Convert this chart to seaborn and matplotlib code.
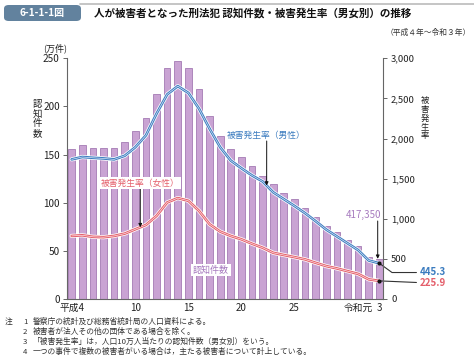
import numpy as np
import pandas as pd
import matplotlib
matplotlib.use("Agg")
import matplotlib.pyplot as plt
import matplotlib.patheffects as pe
from matplotlib.patches import FancyBboxPatch
import seaborn as sns

# ---------------- data ----------------
years = ['平成4', '5', '6', '7', '8', '9', '10', '11', '12', '13', '14', '15', '16', '17', '18',
         '19', '20', '21', '22', '23', '24', '25', '26', '27', '28', '29', '30', '令和元', '2', '3']
counts = [155.6, 160.1, 157.3, 157.3, 157.3, 163.5, 175.0, 187.5, 212.9, 239.6,
          247.6, 239.6, 217.7, 190.3, 169.5, 156.3, 147.9, 138.2, 128.1, 119.2,
          110.4, 103.5, 94.8, 84.8, 76.0, 69.2, 61.1, 55.2, 44.0, 41.735]  # 万件
male_rate = [1740, 1770, 1760, 1752, 1740, 1785, 1892, 2040, 2310, 2550,
             2653, 2569, 2373, 2122, 1892, 1725, 1630, 1540, 1465, 1330,
             1245, 1160, 1070, 970, 865, 780, 695, 610, 480, 445.3]
female_rate = [786, 794, 775, 770, 786, 815, 869, 923, 1036, 1203,
               1258, 1224, 1099, 932, 840, 786, 744, 689, 639, 576,
               548, 522, 494, 451, 410, 381, 347, 313, 245, 225.9]
tick_pos = [0, 6, 11, 16, 21, 27, 29]
tick_labels = ['平成4', '10', '15', '20', '25', '令和元', '3']
left_ticks = [0, 50, 100, 150, 200, 250]
right_ticks = [0, 500, 1000, 1500, 2000, 2500, 3000]
notes = ["警察庁の統計及び総務省統計局の人口資料による。",
         "被害者が法人その他の団体である場合を除く。",
         "「被害発生率」は，人口10万人当たりの認知件数（男女別）をいう。",
         "一つの事件で複数の被害者がいる場合は，主たる被害者について計上している。"]

idx = np.arange(len(years))
df = pd.DataFrame({'idx': idx, 'year': years, 'count': counts,
                   'male': male_rate, 'female': female_rate})

# ---------------- style ----------------
sns.set_theme(style="white")
plt.rcParams['font.family'] = ['Noto Sans CJK JP', 'DejaVu Sans']

W, H = 474, 360
def P(x, y):
    return (x / W, 1 - y / H)

BAR = '#c9a3d3'
BAR_EDGE = '#a47bb4'
BLUE = '#3a7bbf'
RED = '#e45f6b'
PURPLE = '#a77bbf'
GRAY = '#666666'

fig = plt.figure(figsize=(4.74, 3.6), dpi=100)
fig.patch.set_facecolor('white')
ax = fig.add_axes([66.7 / W, 1 - 299 / H, (382.7 - 66.7) / W, (299 - 58.3) / H])

sns.barplot(data=df, x='idx', y='count', ax=ax, color=BAR, saturation=1,
            edgecolor=BAR_EDGE, linewidth=0.6, width=0.63)
ax.set_xlim(-0.47, 29.32)
ax.set_ylim(0, 250)
ax.set_yticks(left_ticks)
ax.set_xticks(tick_pos)
ax.set_xticklabels(tick_labels)
ax.set_xlabel('')
ax.set_ylabel('')
ax.tick_params(axis='x', length=0, labelsize=7, colors='#222222', pad=3)
ax.tick_params(axis='y', length=3, width=0.7, color=GRAY, labelsize=7.2,
               labelcolor='#222222', pad=2, direction='out', left=True)
for s in ['top', 'right']:
    ax.spines[s].set_visible(False)
for s in ['left', 'bottom']:
    ax.spines[s].set_color(GRAY)
    ax.spines[s].set_linewidth(0.8)

ax2 = ax.twinx()
ax2.set_position(ax.get_position())

def line_fx(color):
    return [pe.Stroke(linewidth=3.0, foreground='white'),
            pe.Stroke(linewidth=1.9, foreground=color),
            pe.Normal()]

sns.lineplot(data=df, x='idx', y='male', ax=ax2, color='#dce9f7', linewidth=0.5,
             path_effects=line_fx(BLUE))
sns.lineplot(data=df, x='idx', y='female', ax=ax2, color='#fde6e8', linewidth=0.5,
             path_effects=line_fx(RED))
ax2.set_xlim(-0.47, 29.32)
ax2.set_ylim(0, 3000)
ax2.set_yticks(right_ticks)
ax2.set_yticklabels([f'{v:,}' for v in right_ticks])
ax2.set_xlabel('')
ax2.set_ylabel('')
ax2.tick_params(axis='y', length=3, width=0.7, color=GRAY, labelsize=6.8,
                labelcolor='#222222', pad=3, direction='out', right=True)
for s in ['top', 'left', 'bottom']:
    ax2.spines[s].set_visible(False)
ax2.spines['right'].set_color(GRAY)
ax2.spines['right'].set_linewidth(0.8)

# ---------------- axis labels ----------------
fig.text(*P(55, 48), '(万件)', fontsize=6.5, ha='center', va='center', color='#222222')
fig.text(*P(37.5, 119), '認\n知\n件\n数', fontsize=6.8, ha='center', va='center',
         color='#222222', linespacing=1.05)
fig.text(*P(425, 118), '被\n害\n発\n生\n率', fontsize=6.0, ha='center', va='center',
         color='#222222', linespacing=0.95)

# ---------------- annotations ----------------
arrow = dict(arrowstyle='-|>', color='#111111', lw=0.7, mutation_scale=5,
             shrinkA=0, shrinkB=0)
# male
fig.text(*P(266, 135), '被害発生率（男性）', fontsize=6.3, color=BLUE, ha='center',
         va='center')
xm = (266.7 - 71.7) / 10.61
ax2.annotate('', xy=(xm, np.interp(xm, idx, male_rate)), xycoords='data',
             xytext=P(266.7, 141), textcoords='figure fraction', arrowprops=arrow)
# female
fig.text(*P(140, 183), '被害発生率（女性）', fontsize=6.3, color=RED, ha='center',
         va='center', bbox=dict(facecolor='white', edgecolor='none', pad=1.2))
xf = (140.3 - 71.7) / 10.61
ax2.annotate('', xy=(xf, np.interp(xf, idx, female_rate)), xycoords='data',
             xytext=P(140.3, 189), textcoords='figure fraction', arrowprops=arrow)
# counts
fig.text(*P(211, 270), '認知件数', fontsize=6.5, color=PURPLE, ha='center', va='center',
         bbox=dict(facecolor='white', edgecolor='none', pad=1.2))
# 417,350
fig.text(*P(381, 215), f'{int(round(counts[-1] * 10000)):,}', fontsize=7, color=PURPLE,
         ha='right', va='center')
ax.annotate('', xy=(28.85, counts[-1]), xycoords='data',
            xytext=P(377.7, 221), textcoords='figure fraction', arrowprops=arrow)

# end values
ax2.plot([29], [male_rate[-1]], 'o', color='#111111', ms=2, zorder=6, clip_on=False)
ax2.plot([29], [female_rate[-1]], 'o', color='#111111', ms=2, zorder=6, clip_on=False)
ax2.plot([29, 30.2, 32.5], [male_rate[-1], 330, 330], color='#333333', lw=0.8,
         clip_on=False)
ax2.plot([29, 32.5], [female_rate[-1], female_rate[-1] - 20], color='#333333', lw=0.8,
         clip_on=False)
fig.text(*P(420, 272), f'{male_rate[-1]:.1f}', fontsize=7, color=BLUE, ha='left',
         va='center', fontweight='bold')
fig.text(*P(420, 282.5), f'{female_rate[-1]:.1f}', fontsize=7, color=RED, ha='left',
         va='center', fontweight='bold')

# ---------------- title ----------------
fig.add_artist(plt.Line2D([80 / W, 1], [1 - 4 / H, 1 - 4 / H], color='#bbbbbb', lw=1.2))
box = FancyBboxPatch(P(4, 21), 77 / W, 16 / H, boxstyle='round,pad=0,rounding_size=0.01',
                     transform=fig.transFigure, facecolor='#62829e', edgecolor='none')
fig.add_artist(box)
fig.text(*P(42, 13.2), '6-1-1-1図', fontsize=7.2, color='white', ha='center',
         va='center', fontweight='bold')
fig.text(*P(94, 13.5), '人が被害者となった刑法犯 認知件数・被害発生率（男女別）の推移',
         fontsize=7.6, color='#111111', ha='left', va='center', fontweight='bold')
fig.text(*P(471, 33), '（平成４年～令和３年）', fontsize=5.6, color='#333333',
         ha='right', va='center')

# ---------------- notes ----------------
ys = [322, 332, 342, 352]
fig.text(*P(5, ys[0]), '注', fontsize=5.6, color='#333333', ha='left', va='center')
for i, (yy, t) in enumerate(zip(ys, notes)):
    fig.text(*P(23, yy), str(i + 1), fontsize=5.6, color='#333333', ha='left', va='center')
    fig.text(*P(33, yy), t, fontsize=5.6, color='#333333', ha='left', va='center')

fig.savefig('out.png', dpi=100)
